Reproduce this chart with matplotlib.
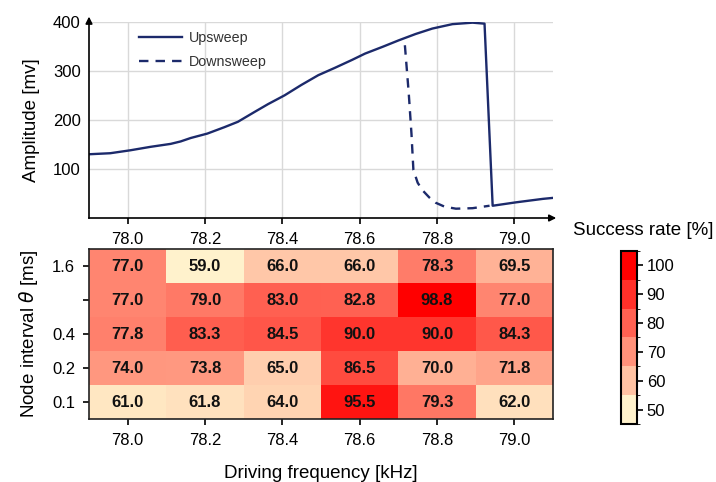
import numpy as np
import matplotlib
matplotlib.use("Agg")
import matplotlib.pyplot as plt
from matplotlib.colors import LinearSegmentedColormap, BoundaryNorm, Normalize
from matplotlib.cm import ScalarMappable

plt.rcParams['font.family'] = ['Liberation Sans', 'DejaVu Sans']

# frequency sweep traces (kHz, mV)
up_freq = [77.903, 77.955, 78.007, 78.059, 78.111, 78.137, 78.163, 78.206, 78.250,
           78.285, 78.328, 78.363, 78.406, 78.449, 78.493, 78.536, 78.580, 78.614,
           78.660, 78.701, 78.745, 78.788, 78.840, 78.892, 78.923, 78.944, 79.005,
           79.074, 79.100]
up_amp = [130, 132, 138, 145, 151, 156, 163, 172, 185,
          196, 216, 232, 250, 271, 291, 306, 322, 335,
          349, 362, 375, 386, 395, 398, 396, 25, 32,
          39, 41]
down_freq = [78.717, 78.727, 78.734, 78.739, 78.750, 78.762, 78.780, 78.797, 78.820,
             78.849, 78.892, 78.936]
down_amp = [352, 254, 172, 98, 72, 57, 42, 31, 23,
            19, 20, 25]

# success rate grid, rows listed from top to bottom
freqs = [78.0, 78.2, 78.4, 78.6, 78.8, 79.0]
intervals = ['1.6', '', '0.4', '0.2', '0.1']
success = [
    [77.0, 59.0, 66.0, 66.0, 78.3, 69.5],
    [77.0, 79.0, 83.0, 82.8, 98.8, 77.0],
    [77.8, 83.3, 84.5, 90.0, 90.0, 84.3],
    [74.0, 73.8, 65.0, 86.5, 70.0, 71.8],
    [61.0, 61.8, 64.0, 95.5, 79.3, 62.0],
]
cbar_ticks = [50, 60, 70, 80, 90, 100]

navy = '#1c2a6b'
cmap = LinearSegmentedColormap.from_list('cream_red', ['#fff2cc', '#ff0000'])
tick_fs = 12
label_fs = 13.5

fig = plt.figure(figsize=(7.16, 4.82), dpi=100)
ax1 = fig.add_axes([0.1243, 0.5477, 0.6480, 0.4073])
ax2 = fig.add_axes([0.1243, 0.1307, 0.6480, 0.3527])
cax = fig.add_axes([0.8673, 0.1203, 0.0223, 0.3590])

# --- amplitude vs frequency
ax1.plot(up_freq, up_amp, color=navy, lw=1.7, label='Upsweep')
ax1.plot(down_freq, down_amp, color=navy, lw=1.7, ls=(0, (4, 3)), label='Downsweep')
ax1.set_xlim(77.9, 79.1)
ax1.set_ylim(0, 400)
ax1.set_xticks(freqs)
ax1.set_xticklabels([f'{f:.1f}' for f in freqs])
ax1.set_yticks([100, 200, 300, 400])
ax1.grid(color='#d9d9d9', lw=1)
ax1.set_axisbelow(True)
for s in ['top', 'right']:
    ax1.spines[s].set_visible(False)
for s in ['left', 'bottom']:
    ax1.spines[s].set_linewidth(1.2)
ax1.tick_params(axis='y', length=0, labelsize=tick_fs, pad=6)
ax1.tick_params(axis='x', length=4, width=1.2, labelsize=tick_fs, pad=6)
ax1.set_ylabel('Amplitude [mv]', fontsize=label_fs, labelpad=10)
ax1.yaxis.set_label_coords(-0.105, 0.5)
ax1.annotate('', xy=(1.013, 0), xytext=(0.99, 0), xycoords='axes fraction',
             arrowprops=dict(arrowstyle='-|>', color='black', lw=1.2, mutation_scale=10))
ax1.annotate('', xy=(0, 1.04), xytext=(0, 0.98), xycoords='axes fraction',
             arrowprops=dict(arrowstyle='-|>', color='black', lw=1.2, mutation_scale=10))
leg = ax1.legend(loc='upper left', bbox_to_anchor=(0.08, 1.02), frameon=False,
                 fontsize=10.3, handlelength=3.0, handletextpad=0.5, labelspacing=0.7)
for t in leg.get_texts():
    t.set_color('#333333')

# --- success rate heatmap
grid = np.array(success)[::-1]
fc = np.array(freqs)
step = fc[1] - fc[0]
x_edges = np.append(fc - step / 2, fc[-1] + step / 2)
y_edges = np.arange(len(intervals) + 1)
norm = Normalize(vmin=grid.min(), vmax=grid.max())
ax2.pcolormesh(x_edges, y_edges, grid, cmap=cmap, norm=norm)
for i, row in enumerate(grid):
    for j, v in enumerate(row):
        ax2.text(fc[j], i + 0.5, f'{v:.1f}', ha='center', va='center',
                 fontsize=12, fontweight='bold', color='#111111')
ax2.set_xlim(77.9, 79.1)
ax2.set_ylim(0, len(intervals))
ax2.set_xticks(freqs)
ax2.set_xticklabels([f'{f:.1f}' for f in freqs])
ax2.set_yticks(y_edges[:-1] + 0.5)
ax2.set_yticklabels(intervals[::-1])
ax2.tick_params(length=4, width=1.2, labelsize=tick_fs, pad=6)
for s in ax2.spines.values():
    s.set_linewidth(1.2)
    s.set_color('#222222')
ax2.set_xlabel('Driving frequency [kHz]', fontsize=label_fs, labelpad=12)
ax2.set_ylabel(r'Node interval $\theta$ [ms]', fontsize=label_fs)
ax2.yaxis.set_label_coords(-0.105, 0.5)

# --- binned colour bar
bounds = np.arange(cbar_ticks[0] - 5, cbar_ticks[-1] + 10, 10)
bin_colors = [cmap((t - cbar_ticks[0]) / (cbar_ticks[-1] - cbar_ticks[0])) for t in cbar_ticks]
bin_cmap = LinearSegmentedColormap.from_list('bins', bin_colors, N=len(bin_colors))
sm = ScalarMappable(norm=BoundaryNorm(bounds, bin_cmap.N), cmap=bin_cmap)
cb = fig.colorbar(sm, cax=cax, ticks=cbar_ticks)
cb.outline.set_linewidth(1.5)
cax.tick_params(length=4, width=1.2, labelsize=tick_fs, pad=3)
fig.text(0.898, 0.522, 'Success rate [%]', ha='center', va='center', fontsize=label_fs)

fig.savefig('out.png', dpi=100)
